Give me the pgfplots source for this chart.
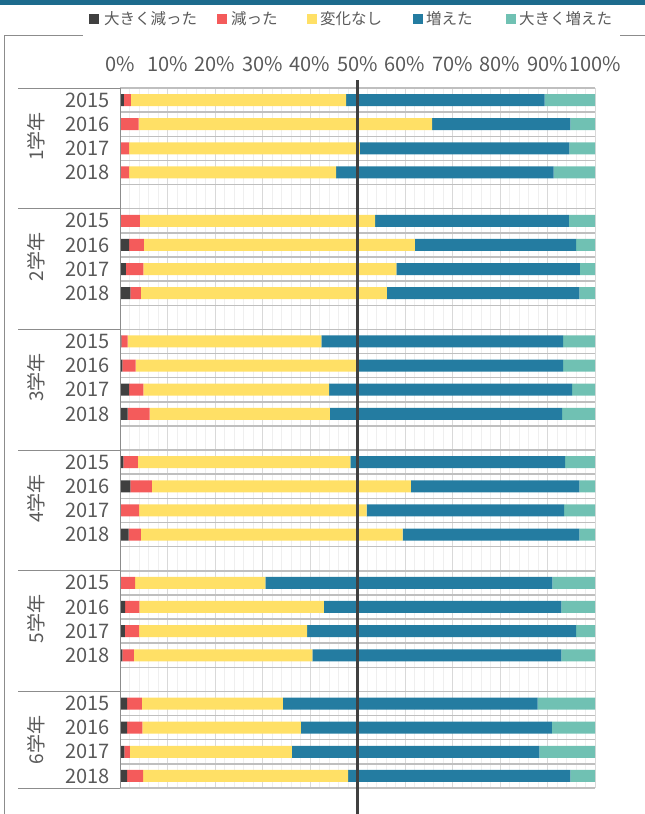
\documentclass[border=0pt]{standalone}
\usepackage{pgfplots}
\pgfplotsset{compat=1.18}
\usepackage{pgfplotstable}
\usepackage{fontspec}
\setmainfont{Noto Sans CJK JP}
\definecolor{cDark}{HTML}{404040}
\definecolor{cRed}{HTML}{F45B5B}
\definecolor{cYel}{HTML}{FFE066}
\definecolor{cBlue}{HTML}{247CA1}
\definecolor{cTeal}{HTML}{70C1B3}
\definecolor{cBand}{HTML}{1D6B8D}
\definecolor{cText}{HTML}{595959}
\definecolor{cGridMaj}{HTML}{D9D9D9}
\definecolor{cGridMin}{HTML}{EFEFEF}
\definecolor{cGridH}{HTML}{BFBFBF}
\definecolor{cAxis}{HTML}{8C8C8C}

% y = slot position (group*5 + year index + 0.5)
% d = 大きく減った, r = 減った, n = 変化なし, i = 増えた, ii = 大きく増えた
\pgfplotstableread{
y    d     r     n      i      ii
0.5  0.8   1.5   45.3   41.8   10.6
1.5  0     3.9   61.8   29.1   5.2
2.5  0     1.9   48.6   44.1   5.4
3.5  0     1.9   43.6   45.8   8.7
5.5  0     4.2   49.5   40.8   5.5
6.5  1.9   3.1   57.1   33.9   4.0
7.5  1.25  3.65  53.3   38.6   3.2
8.5  2.2   2.2   51.8   40.5   3.3
10.5 0.3   1.3   40.8   50.9   6.7
11.5 0.5   2.8   46.6   43.4   6.7
12.5 1.9   3.0   39.1   51.2   4.8
13.5 1.6   4.65  37.95  48.9   6.9
15.5 0.7   3.05  44.75  45.2   6.3
16.5 2.2   4.5   54.55  35.45  3.3
17.5 0     4.0   47.9   41.6   6.5
18.5 1.8   2.6   55.1   37.2   3.3
20.5 0     3.2   27.4   60.4   9.0
21.5 1.1   3.0   38.8   50.0   7.1
22.5 1.0   3.0   35.4   56.6   4.0
23.5 0.5   2.4   37.6   52.4   7.1
25.5 1.5   3.1   29.7   53.6   12.1
26.5 1.5   3.2   33.4   52.8   9.1
27.5 0.9   1.2   34.1   52.1   11.7
28.5 1.5   3.35  43.15  46.8   5.2
}\data

\begin{document}
\begin{tikzpicture}[x=1pt,y=1pt]
\fill[cBand] (0,0) rectangle (645,-5);
\begin{axis}[
  at={(120pt,-88pt)}, anchor=north west,
  scale only axis, width=475pt, height=700pt,
  xbar stacked, bar width=12pt,
  xmin=0, xmax=100, ymin=0, ymax=29, y dir=reverse,
  axis line style={draw=none},
  xtick={0,10,...,100},
  xticklabels={0\%,10\%,20\%,30\%,40\%,50\%,60\%,70\%,80\%,90\%,100\%},
  xticklabel pos=upper,
  minor x tick num=4, xmajorgrids, xminorgrids,
  major grid style={draw=cGridMaj, line width=1pt},
  minor grid style={draw=cGridMin, line width=1pt},
  major tick length=0pt, minor tick length=0pt,
  ytick={0.5,1.5,2.5,3.5,5.5,6.5,7.5,8.5,10.5,11.5,12.5,13.5,15.5,16.5,17.5,18.5,20.5,21.5,22.5,23.5,25.5,26.5,27.5,28.5},
  yticklabels={2015,2016,2017,2018,2015,2016,2017,2018,2015,2016,2017,2018,2015,2016,2017,2018,2015,2016,2017,2018,2015,2016,2017,2018},
  extra y ticks={0,1,...,29},
  extra y tick labels={},
  extra y tick style={ymajorgrids=true, major grid style={draw=cGridH, line width=1.5pt}},
  tick label style={font=\fontsize{20}{24}\selectfont, text=cText},
  yticklabel style={inner sep=0pt, xshift=-10pt},
  xticklabel style={inner sep=0pt, yshift=16pt},
  /pgf/number format/assume math mode=true,
  clip=false,
]
\addplot[fill=cDark, draw=none] table[x=d, y=y] {\data};
\addplot[fill=cRed,  draw=none] table[x=r, y=y] {\data};
\addplot[fill=cYel,  draw=none] table[x=n, y=y] {\data};
\addplot[fill=cBlue, draw=none] table[x=i, y=y] {\data};
\addplot[fill=cTeal, draw=none] table[x=ii, y=y] {\data};
\end{axis}
% 50% reference line
\draw[cDark, line width=3pt] (357.5,-80) -- (357.5,-814);
% category axis line and group separators
\draw[cAxis, line width=1pt] (120,-88) -- (120,-788);
\foreach \s in {0,5,10,15,20,25,29} {
  \draw[cAxis, line width=1pt] (18,{-88-24.1379*\s}) -- (120,{-88-24.1379*\s});
}
\foreach \g in {1,...,6} {
  \node[rotate=90, text=cText, font=\fontsize{19}{22}\selectfont, inner sep=0pt]
    at (36,{-88-24.1379*(5*(\g-1)+2)}) {\g 学年};
}
% outer frame
\draw[cAxis, line width=1pt] (4,-35) -- (4,-814);
\draw[cAxis, line width=1pt] (4,-35) -- (83,-35);
\draw[cAxis, line width=1pt] (620,-35) -- (645,-35);
% legend
\begin{scope}[every node/.style={anchor=west, inner sep=0pt, text=cText, font=\fontsize{15.5}{18}\selectfont}]
\fill[cDark] (89,-14) rectangle (99,-24); \node at (104,-19) {大きく減った};
\fill[cRed]  (217,-14) rectangle (227,-24); \node at (231,-19) {減った};
\fill[cYel]  (307,-14) rectangle (317,-24); \node at (320,-19) {変化なし};
\fill[cBlue] (413,-14) rectangle (423,-24); \node at (426,-19) {増えた};
\fill[cTeal] (506,-14) rectangle (516,-24); \node at (519,-19) {大きく増えた};
\end{scope}
\pgfresetboundingbox
\path[use as bounding box] (0,0) rectangle (645,-814);
\end{tikzpicture}
\end{document}
